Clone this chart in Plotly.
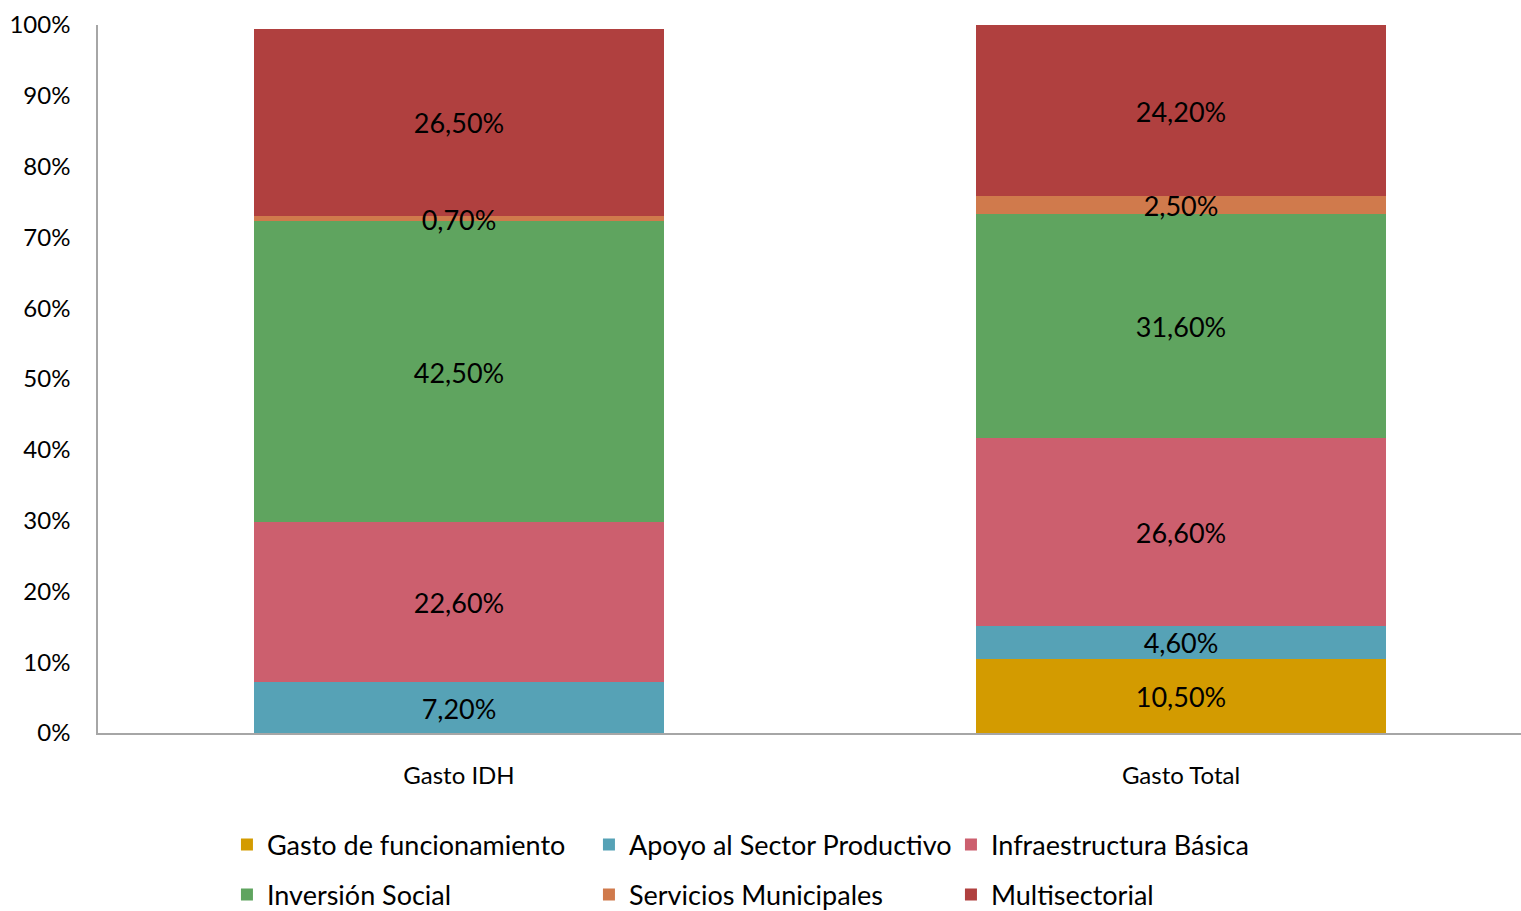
import plotly.graph_objects as go

categories = ["Gasto IDH", "Gasto Total"]
series_names = ["Gasto de funcionamiento", "Apoyo al Sector Productivo", "Infraestructura Básica",
                "Inversión Social", "Servicios Municipales", "Multisectorial"]
funcionamiento = [0.0, 10.5]
apoyo = [7.2, 4.6]
infraestructura = [22.6, 26.6]
inversion = [42.5, 31.6]
servicios = [0.7, 2.5]
multisectorial = [26.5, 24.2]
colors = ["#D39B00", "#56A2B6", "#CC5F6E", "#5FA45F", "#D07A4C", "#B0403F"]
ytick_vals = [0, 10, 20, 30, 40, 50, 60, 70, 80, 90, 100]
ytick_text = [f"{v}%" for v in ytick_vals]

all_series = [funcionamiento, apoyo, infraestructura, inversion, servicios, multisectorial]
FONT = "Lato"
LABEL_DY = -0.6  # small downward nudge of value labels (style)

fig = go.Figure()
for i, (name, vals, col) in enumerate(zip(series_names, all_series, colors)):
    fig.add_trace(go.Bar(
        x=categories, y=vals, name=name, marker=dict(color=col, line=dict(width=0)),
        hoverinfo="skip", legend="legend" if i < 3 else "legend2",
    ))

# value labels on top of all bars (so thin segments don't hide them)
lx, ly, lt = [], [], []
base = [0.0] * len(categories)
for vals in all_series:
    for j, v in enumerate(vals):
        if v > 0:
            lx.append(categories[j])
            ly.append(base[j] + v / 2 + LABEL_DY)
            lt.append(f"{v:.2f}".replace(".", ",") + "%")
        base[j] += v
fig.add_trace(go.Scatter(x=lx, y=ly, text=lt, mode="text", showlegend=False, hoverinfo="skip",
                         textposition="middle center",
                         textfont=dict(family=FONT, size=27, color="#000000"), cliponaxis=False))

legend_common = dict(orientation="h", x=0.0893, xanchor="left", yanchor="middle",
                     yref="container",
                     traceorder="normal", entrywidth=317, entrywidthmode="pixels",
                     font=dict(family=FONT, size=27, color="#000000"), itemwidth=30,
                     bgcolor="rgba(0,0,0,0)")
fig.update_layout(
    barmode="stack", bargap=0.431,
    width=1542, height=911,
    margin=dict(l=98, r=0, t=25, b=178, autoexpand=False),
    paper_bgcolor="white", plot_bgcolor="white",
    font=dict(family=FONT, size=24, color="#000000"),
    showlegend=True,
    legend=dict(legend_common, y=1 - 845 / 911),
    legend2=dict(legend_common, y=1 - 895 / 911),
)
fig.update_xaxes(showline=True, linecolor="#A6A6A6", linewidth=1.5, ticks="",
                 tickfont=dict(family=FONT, size=24, color="#000000"), ticklabelstandoff=20,
                 showgrid=False)
fig.update_yaxes(range=[0, 100], tickvals=ytick_vals, ticktext=ytick_text, showgrid=False,
                 showline=True, linecolor="#A6A6A6", linewidth=1.5, ticks="", zeroline=False,
                 tickfont=dict(family=FONT, size=24, color="#000000"), ticklabelstandoff=21)

fig.write_html("out.html", config={"displayModeBar": False},
               post_script="document.body.style.margin='0';document.body.style.overflow='hidden';")
